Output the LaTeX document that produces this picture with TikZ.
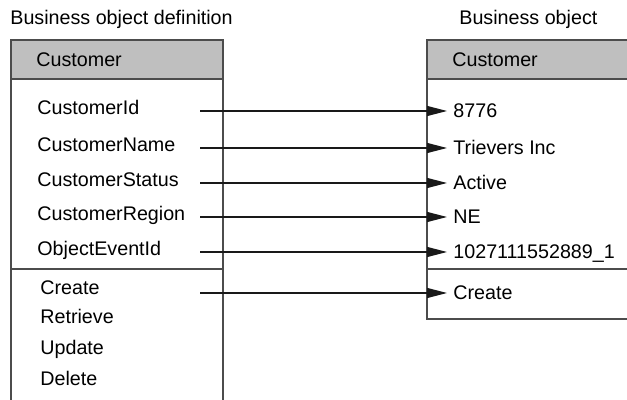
\documentclass[tikz,border=0pt]{standalone}
\usepackage{fontspec}
\setmainfont{Liberation Sans}
\usetikzlibrary{arrows.meta}

\begin{document}
\begin{tikzpicture}[x=0.5pt,y=-0.5pt,
	box/.style={draw=black!70,line width=0.6pt},
	head/.style={box,fill=black!25},
	label/.style={anchor=base west,inner sep=0pt,font=\fontsize{9.85}{12}\selectfont},
	value/.style={label,inner xsep=3pt},
	link/.style={draw=black!90,line width=0.6pt,-{Triangle[length=10pt,width=5pt]}}]
	\useasboundingbox (0,0) rectangle (627,400);
	% Titles
	\node[label] (deftitle) at (10,25) {Business object definition};
	\node[label] (objtitle) at (459,25) {Business object};
	% Definition box
	\draw[head] (11,40) rectangle (223,79);
	\draw[box] (11,79) -- (11,402) (223,79) -- (223,402) (11,269) -- (223,269);
	\node[label] (defhead) at (36,67) {Customer};
	\node[label] (id) at (37,115) {CustomerId};
	\node[label] (name) at (37,152) {CustomerName};
	\node[label] (status) at (37,187) {CustomerStatus};
	\node[label] (region) at (37,221) {CustomerRegion};
	\node[label] (event) at (37,256) {ObjectEventId};
	\node[label] (create) at (40,295) {Create};
	\node[label] (retrieve) at (40,324) {Retrieve};
	\node[label] (update) at (40,355) {Update};
	\node[label] (delete) at (40,386) {Delete};
	% Object box
	\draw[head] (427,40) rectangle (629,79);
	\draw[box] (427,79) -- (427,319) -- (629,319) (427,269) -- (629,269);
	\node[label] (objhead) at (452,67) {Customer};
	\node[value] (idval) at (447,118) {8776};
	\node[value] (nameval) at (447,155) {Trievers Inc};
	\node[value] (statusval) at (447,190) {Active};
	\node[value] (regionval) at (447,224) {NE};
	\node[value] (eventval) at (447,259) {1027111552889\_1};
	\node[value] (createval) at (447,300) {Create};
	% Mappings
	\coordinate (idsrc) at (200,111);
	\coordinate (namesrc) at (200,148);
	\coordinate (statussrc) at (200,183);
	\coordinate (regionsrc) at (200,217);
	\coordinate (eventsrc) at (200,252);
	\coordinate (createsrc) at (200,293);
	\draw[link] (idsrc) -- (idsrc -| idval.west);
	\draw[link] (namesrc) -- (namesrc -| nameval.west);
	\draw[link] (statussrc) -- (statussrc -| statusval.west);
	\draw[link] (regionsrc) -- (regionsrc -| regionval.west);
	\draw[link] (eventsrc) -- (eventsrc -| eventval.west);
	\draw[link] (createsrc) -- (createsrc -| createval.west);
\end{tikzpicture}
\end{document}
